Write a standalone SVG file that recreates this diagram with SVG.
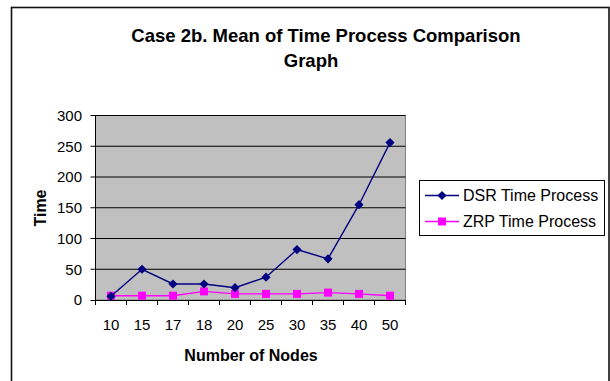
<svg xmlns="http://www.w3.org/2000/svg" width="610" height="381" viewBox="0 0 610 381">
  <style>
    .txt { font-family: "Liberation Sans", Arial, Helvetica, sans-serif; fill: #000; }
    .tick { font-size: 15px; }
    .leg { font-size: 16px; }
    .bold { font-weight: bold; }
    .grid { stroke: #000; stroke-width: 1; }
    .axis { stroke: #000; stroke-width: 1; fill: none; }
    .dsr { stroke: #000080; stroke-width: 1.4; fill: none; }
    .zrp { stroke: #FF00FF; stroke-width: 1.4; fill: none; }
  </style>
  <defs>
    <path id="diamond" d="M0,-4.6 L4.6,0 L0,4.6 L-4.6,0 Z" fill="#000080"/>
    <rect id="square" x="-4" y="-4" width="8" height="8" fill="#FF00FF"/>
  </defs>

  <!-- chart frame -->
  <rect x="11.5" y="7.5" width="597.5" height="385" fill="#fff" stroke="#111" stroke-width="1.6"/>

  <!-- title -->
  <g id="title" class="txt bold" font-size="18.5" text-anchor="middle">
    <text x="326" y="42">Case 2b. Mean of Time Process Comparison</text>
    <text x="311" y="67">Graph</text>
  </g>

  <!-- plot area with gridlines -->
  <g id="plot">
    <rect x="95.5" y="115.5" width="310" height="184.5" fill="#C0C0C0" stroke="#808080" stroke-width="1"/>
    <line class="grid" x1="95.5" y1="115.5" x2="405.5" y2="115.5"/>
    <line class="grid" x1="95.5" y1="146.25" x2="405.5" y2="146.25"/>
    <line class="grid" x1="95.5" y1="177" x2="405.5" y2="177"/>
    <line class="grid" x1="95.5" y1="207.75" x2="405.5" y2="207.75"/>
    <line class="grid" x1="95.5" y1="238.5" x2="405.5" y2="238.5"/>
    <line class="grid" x1="95.5" y1="269.25" x2="405.5" y2="269.25"/>
  </g>

  <!-- axes and tick marks -->
  <g id="axes">
    <path class="axis" d="M95.5,115.5 V300.5 H405.5"/>
    <path class="axis" d="M90.5,115.5 H95.5 M90.5,146.25 H95.5 M90.5,177 H95.5 M90.5,207.75 H95.5 M90.5,238.5 H95.5 M90.5,269.25 H95.5 M90.5,300.5 H95.5"/>
    <path class="axis" d="M95.5,300 V305 M126.5,300 V305 M157.5,300 V305 M188.5,300 V305 M219.5,300 V305 M250.5,300 V305 M281.5,300 V305 M312.5,300 V305 M343.5,300 V305 M374.5,300 V305 M405.5,300 V305"/>
    <g class="txt tick" text-anchor="end">
      <text x="82" y="120.8">300</text>
      <text x="82" y="151.6">250</text>
      <text x="82" y="182.3">200</text>
      <text x="82" y="213.1">150</text>
      <text x="82" y="243.8">100</text>
      <text x="82" y="274.6">50</text>
      <text x="82" y="305.3">0</text>
    </g>
    <g class="txt tick" text-anchor="middle">
      <text x="111" y="330">10</text>
      <text x="142" y="330">15</text>
      <text x="173" y="330">17</text>
      <text x="204" y="330">18</text>
      <text x="235" y="330">20</text>
      <text x="266" y="330">25</text>
      <text x="297" y="330">30</text>
      <text x="328" y="330">35</text>
      <text x="359" y="330">40</text>
      <text x="390" y="330">50</text>
    </g>
    <text class="txt bold" font-size="16" text-anchor="middle" transform="translate(46,208) rotate(-90)">Time</text>
    <text class="txt bold" font-size="16" text-anchor="middle" x="251" y="361">Number of Nodes</text>
  </g>

  <!-- ZRP series -->
  <g id="series-zrp">
    <polyline class="zrp" points="111,295.7 142,295.7 173,295.7 204,291.4 235,293.9 266,293.9 297,293.9 328,292.6 359,293.9 390,295.7"/>
    <use href="#square" x="111" y="295.7"/>
    <use href="#square" x="142" y="295.7"/>
    <use href="#square" x="173" y="295.7"/>
    <use href="#square" x="204" y="291.4"/>
    <use href="#square" x="235" y="293.9"/>
    <use href="#square" x="266" y="293.9"/>
    <use href="#square" x="297" y="293.9"/>
    <use href="#square" x="328" y="292.6"/>
    <use href="#square" x="359" y="293.9"/>
    <use href="#square" x="390" y="295.7"/>
  </g>

  <!-- DSR series -->
  <g id="series-dsr">
    <polyline class="dsr" points="111,296.3 142,269.25 173,284 204,284 235,287.7 266,277.2 297,249.6 328,258.8 359,204.7 390,142.6"/>
    <use href="#diamond" x="111" y="296.3"/>
    <use href="#diamond" x="142" y="269.25"/>
    <use href="#diamond" x="173" y="284"/>
    <use href="#diamond" x="204" y="284"/>
    <use href="#diamond" x="235" y="287.7"/>
    <use href="#diamond" x="266" y="277.2"/>
    <use href="#diamond" x="297" y="249.6"/>
    <use href="#diamond" x="328" y="258.8"/>
    <use href="#diamond" x="359" y="204.7"/>
    <use href="#diamond" x="390" y="142.6"/>
  </g>

  <!-- legend -->
  <g id="legend">
    <rect x="419.5" y="180.5" width="185" height="55" fill="#fff" stroke="#000" stroke-width="1"/>
    <line class="dsr" x1="425" y1="195.5" x2="459" y2="195.5"/>
    <use href="#diamond" x="442" y="195.5"/>
    <text class="txt leg" x="463" y="201.3">DSR Time Process</text>
    <line class="zrp" x1="425" y1="221.5" x2="459" y2="221.5"/>
    <use href="#square" x="442" y="221.5"/>
    <text class="txt leg" x="463" y="227.3">ZRP Time Process</text>
  </g>
</svg>
